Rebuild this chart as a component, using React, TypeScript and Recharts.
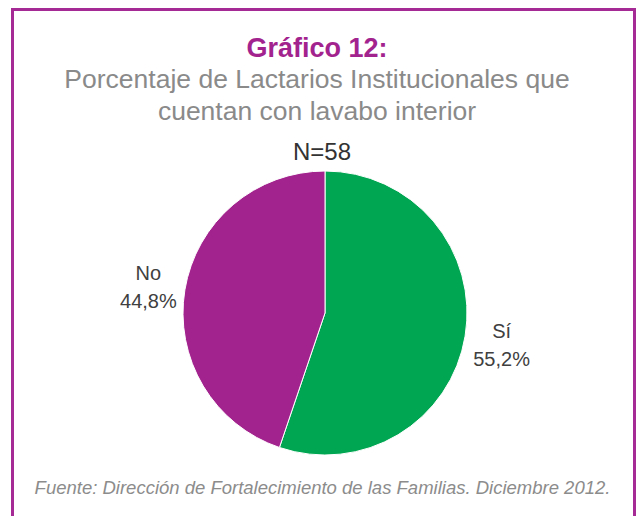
import { PieChart, Pie, Cell } from 'recharts';

const categories = ['Sí', 'No'];
const percentages = [55.2, 44.8];
const sampleSize = 58;

const colors = ['#00A651', '#A3238E'];

const data = categories.map((name, i) => ({ name, value: percentages[i] }));

const fmt = (v: number) => `${v.toFixed(1).replace('.', ',')}%`;

const FONT = "'Liberation Sans', Arial, Helvetica, sans-serif";

const renderLabel = (props: any) => {
  const { cx, cy, midAngle, outerRadius, name, value } = props;
  const RAD = Math.PI / 180;
  const r = outerRadius + 37;
  const x = cx + r * Math.cos(-midAngle * RAD);
  const y = cy + r * Math.sin(-midAngle * RAD);
  return (
    <text x={x} y={y} textAnchor="middle" fill="#404040" fontSize={20} fontFamily={FONT}>
      <tspan x={x} dy={-4}>{name}</tspan>
      <tspan x={x} dy={28}>{fmt(value)}</tspan>
    </text>
  );
};

export default function App() {
  return (
    <div
      style={{
        position: 'absolute',
        left: 0,
        top: 0,
        width: 638,
        height: 516,
        background: '#fff',
        overflow: 'hidden',
      }}
    >
      <div
        style={{
          position: 'absolute',
          left: 11,
          top: 8,
          width: 619,
          height: 540,
          border: '3px solid #A52A96',
        }}
      />
      <div style={{ position: 'absolute', left: 0, top: 0 }}>
        <PieChart width={638} height={516} margin={{ top: 0, right: 0, bottom: 0, left: 0 }}>
          <Pie
            data={data}
            dataKey="value"
            nameKey="name"
            cx={325}
            cy={313}
            outerRadius={142}
            startAngle={90}
            endAngle={-270}
            stroke="#fff"
            strokeWidth={1}
            label={renderLabel}
            labelLine={false}
            isAnimationActive={false}
          >
            {data.map((d, i) => (
              <Cell key={d.name} fill={colors[i]} />
            ))}
          </Pie>
        </PieChart>
      </div>
      <svg width={638} height={516} style={{ position: 'absolute', left: 0, top: 0, pointerEvents: 'none' }}>
        <g fontFamily={FONT} textAnchor="middle">
          <text x={317} y={57} fill="#A3238E" fontSize={27} fontWeight="bold">
            Gráfico 12:
          </text>
          <text x={317} y={88} fill="#8A8A8A" fontSize={26.5}>
            Porcentaje de Lactarios Institucionales que
          </text>
          <text x={317} y={120} fill="#8A8A8A" fontSize={26.5}>
            cuentan con lavabo interior
          </text>
          <text x={322} y={160} fill="#333" fontSize={24}>
            N={sampleSize}
          </text>
          <text x={322.5} y={494} fill="#8C8C8C" fontSize={18.5} fontStyle="italic">
            Fuente: Dirección de Fortalecimiento de las Familias. Diciembre 2012.
          </text>
        </g>
      </svg>
    </div>
  );
}
